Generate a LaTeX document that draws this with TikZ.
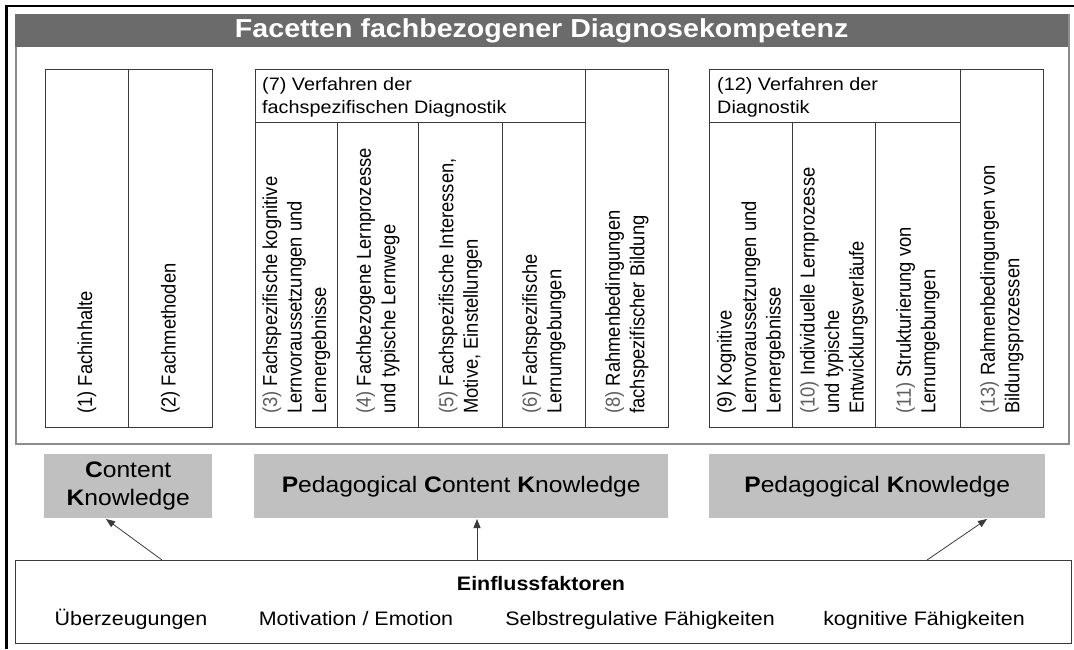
\documentclass[tikz,border=0pt]{standalone}
\usepackage{fontspec}
\setmainfont{Liberation Sans}[FakeStretch=1.1]
% narrower cut of the same face for the upright (rotated) column labels
\newfontfamily\colfont{Liberation Sans}[FakeStretch=0.91]
\usetikzlibrary{arrows.meta,calc}

\definecolor{headgrey}{HTML}{6B6B6B}
\definecolor{labelgrey}{HTML}{C0C0C0}
\definecolor{panelline}{HTML}{8C8C8C}
\definecolor{boxline}{HTML}{3A3A3A}
\definecolor{numgrey}{HTML}{5E5E5E}

% light numbering in front of some column labels
\newcommand\lightnum[1]{\textcolor{numgrey}{#1}}

% rectangle node from its top-left (#2,#3) to its bottom-right (#4,#5)
\newcommand\boxat[7]{%
  \node[#6, anchor=north west, inner sep=0pt,
        minimum width={#4pt-#2pt}, minimum height={#5pt-#3pt}] (#1) at (#2,#3) {#7};}

\begin{document}
\begin{tikzpicture}[x=1pt,y=-1pt,
  cellbox/.style={draw=boxline, line width=0.9pt, fill=white},
  labelbox/.style={fill=labelgrey, draw=none, align=center,
                   font=\fontsize{22.4}{27.5}\selectfont},
  coltext/.style={rotate=90, anchor=west, align=left, inner sep=0pt,
                  font=\colfont\fontsize{20.2}{24.5}\selectfont},
  subhead/.style={anchor=north west, align=left, inner sep=0pt,
                  font=\fontsize{18}{23}\selectfont},
  rowtext/.style={anchor=base, inner sep=0pt,
                  font=\fontsize{19.5}{23}\selectfont},
  conn/.style={draw=boxline, line width=0.8pt,
               -{Triangle[length=9pt,width=7pt]}}]

\useasboundingbox (0,0) rectangle (1074,649);

% outer frame
\draw[line width=2.6pt] (6.5,649) -- (6.5,6) -- (1074,6);

% panel with title bar
\boxat{panel}{15}{14}{1068}{443}{draw=panelline, line width=1.6pt, fill=white}{}
\boxat{head}{15}{14}{1068}{47}{fill=headgrey, draw=none}{}
\node[text=white, font=\fontsize{26}{30}\selectfont\bfseries] (title)
  at (head.center) {Facetten fachbezogener Diagnosekompetenz};

% content knowledge columns
\boxat{c1}{45}{69}{128}{427}{cellbox}{}
\boxat{c2}{128}{69}{212}{427}{cellbox}{}

% pedagogical content knowledge columns
\boxat{h7}{255}{69}{585}{122}{cellbox}{}
\boxat{c3}{255}{122}{337}{427}{cellbox}{}
\boxat{c4}{337}{122}{418}{427}{cellbox}{}
\boxat{c5}{418}{122}{502}{427}{cellbox}{}
\boxat{c6}{502}{122}{585}{427}{cellbox}{}
\boxat{c8}{585}{69}{668}{427}{cellbox}{}

% pedagogical knowledge columns
\boxat{h12}{709}{69}{960}{122}{cellbox}{}
\boxat{c9}{709}{122}{792}{427}{cellbox}{}
\boxat{c10}{792}{122}{875}{427}{cellbox}{}
\boxat{c11}{875}{122}{960}{427}{cellbox}{}
\boxat{c13}{960}{69}{1043}{427}{cellbox}{}

\node[subhead] (t7) at ($(h7.north west)+(7,8)$)
  {(7) Verfahren der\\fachspezifischen Diagnostik};
\node[subhead] (t12) at ($(h12.north west)+(8,8)$)
  {(12) Verfahren der\\Diagnostik};

\node[coltext] (t1) at ($(c1.south)+(0,-14)$) {(1) Fachinhalte};
\node[coltext] (t2) at ($(c2.south)+(0,-14)$) {(2) Fachmethoden};
\node[coltext] (t3) at ($(c3.south)+(0,-14)$)
  {\lightnum{(3)} Fachspezifische kognitive\\Lernvoraussetzungen und\\Lernergebnisse};
\node[coltext] (t4) at ($(c4.south)+(0,-14)$)
  {\lightnum{(4)} Fachbezogene Lernprozesse\\und typische Lernwege};
\node[coltext] (t5) at ($(c5.south)+(0,-14)$)
  {\lightnum{(5)} Fachspezifische Interessen,\\Motive, Einstellungen};
\node[coltext] (t6) at ($(c6.south)+(0,-14)$)
  {\lightnum{(6)} Fachspezifische\\Lernumgebungen};
\node[coltext] (t8) at ($(c8.south)+(0,-14)$)
  {\lightnum{(8)} Rahmenbedingungen\\fachspezifischer Bildung};
\node[coltext] (t9) at ($(c9.south)+(0,-14)$)
  {(9) Kognitive\\Lernvoraussetzungen und\\Lernergebnisse};
\node[coltext] (t10) at ($(c10.south)+(0,-14)$)
  {\lightnum{(10)} Individuelle Lernprozesse\\und typische\\Entwicklungsverläufe};
\node[coltext] (t11) at ($(c11.south)+(0,-14)$)
  {\lightnum{(11)} Strukturierung von\\Lernumgebungen};
\node[coltext] (t13) at ($(c13.south)+(0,-14)$)
  {\lightnum{(13)} Rahmenbedingungen von\\Bildungsprozessen};

% knowledge domains
\boxat{ck}{44}{454}{212}{518}{labelbox}{\textbf{C}ontent\\\textbf{K}nowledge}
\boxat{pck}{254}{454}{668}{518}{labelbox}{\textbf{P}edagogical \textbf{C}ontent \textbf{K}nowledge}
\boxat{pk}{709}{454}{1045}{518}{labelbox}{\textbf{P}edagogical \textbf{K}nowledge}

% influencing factors
\boxat{infl}{15}{560}{1071}{643}{draw=boxline, line width=1.2pt, fill=white}{}
\node[rowtext, font=\fontsize{19.5}{23}\selectfont\bfseries] (ef) at (541,590) {Einflussfaktoren};
\node[rowtext] (f1) at (131,625) {Überzeugungen};
\node[rowtext] (f2) at (356,625) {Motivation / Emotion};
\node[rowtext] (f3) at (640,625) {Selbstregulative Fähigkeiten};
\node[rowtext] (f4) at (924,625) {kognitive Fähigkeiten};

% influence arrows
\coordinate (a1) at (162,560);
\coordinate (a1tip) at (106,519);
\coordinate (a2) at (477,560);
\coordinate (a2tip) at (477,519);
\coordinate (a3) at (927,560);
\coordinate (a3tip) at (987,519);
\draw[conn] (a1) -- (a1tip);
\draw[conn] (a2) -- (a2tip);
\draw[conn] (a3) -- (a3tip);

\end{tikzpicture}
\end{document}
